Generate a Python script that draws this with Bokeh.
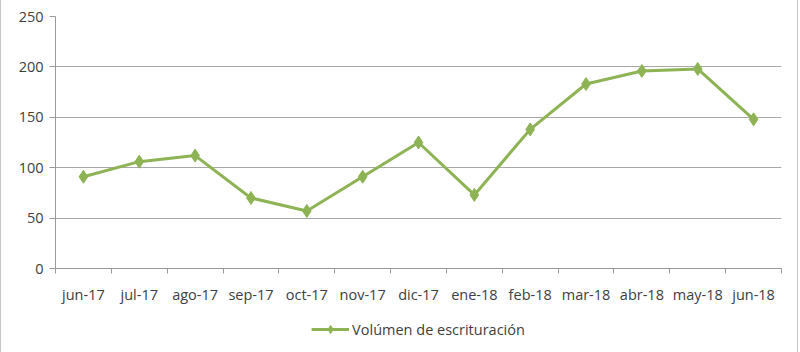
from bokeh.plotting import figure
from bokeh.layouts import column
from bokeh.models import FixedTicker, Range1d, Legend, LegendItem, ColumnDataSource
from bokeh.embed import file_html
from bokeh.resources import INLINE

months = ["jun-17", "jul-17", "ago-17", "sep-17", "oct-17", "nov-17", "dic-17",
          "ene-18", "feb-18", "mar-18", "abr-18", "may-18", "jun-18"]
volumen = [91, 106, 112, 70, 57, 91, 125, 73, 138, 183, 196, 198, 148]
series_name = "Volúmen de escrituración"
y_ticks = [0, 50, 100, 150, 200, 250]

xs = list(range(len(months)))
src = ColumnDataSource(dict(x=xs, y=volumen))

FONT = "Open Sans"
GREEN = "#8db354"
TXT = "#404040"
SIDE = {"border-left": "1px solid #c8c8c8", "border-right": "1px solid #c8c8c8"}

p = figure(width=798, height=306, output_backend="svg", toolbar_location=None,
           x_range=Range1d(-0.5, len(months) - 0.5), y_range=Range1d(0, 250),
           min_border_left=54, min_border_right=18, min_border_top=16, min_border_bottom=36)
p.styles = SIDE
p.outline_line_color = None
p.background_fill_color = "white"

p.line("x", "y", source=src, line_color=GREEN, line_width=3)
p.scatter("x", "y", source=src, marker="diamond", size=13, fill_color=GREEN, line_color=GREEN)

# x axis
p.xaxis.ticker = FixedTicker(ticks=xs, minor_ticks=[i - 0.5 for i in range(len(months) + 1)])
p.xaxis.major_label_overrides = {i: m for i, m in enumerate(months)}
p.xaxis.major_tick_out = 0
p.xaxis.major_tick_in = 0
p.xaxis.minor_tick_out = 5
p.xaxis.minor_tick_in = 0
p.xaxis.minor_tick_line_color = "#9a9a9a"
p.xaxis.axis_line_color = "#9a9a9a"
p.xaxis.major_label_standoff = 11
p.xgrid.grid_line_color = None

# y axis
p.yaxis.ticker = FixedTicker(ticks=y_ticks)
p.yaxis.major_tick_out = 6
p.yaxis.major_tick_in = 0
p.yaxis.minor_tick_line_color = None
p.yaxis.axis_line_color = "#9a9a9a"
p.yaxis.major_tick_line_color = "#9a9a9a"
p.yaxis.major_label_standoff = 6
p.ygrid.ticker = FixedTicker(ticks=y_ticks)
p.ygrid.grid_line_color = "#a8a8a8"
p.ygrid.grid_line_width = 1

for ax in (p.xaxis, p.yaxis):
    ax.major_label_text_font = FONT
    ax.major_label_text_font_size = "14.5px"
    ax.major_label_text_color = TXT

# legend strip below the chart
pl = figure(width=798, height=46, output_backend="svg", toolbar_location=None,
            x_range=Range1d(100, 101), y_range=Range1d(0, 250),
            x_axis_location=None, y_axis_location=None,
            min_border_left=0, min_border_right=0, min_border_top=0, min_border_bottom=0)
pl.styles = SIDE
pl.outline_line_color = None
pl.xgrid.visible = False
pl.ygrid.visible = False
ln = pl.line("x", "y", source=src, line_color=GREEN, line_width=3)
sc = pl.scatter("x", "y", source=src, marker="diamond", size=13, fill_color=GREEN, line_color=GREEN)

legend = Legend(items=[LegendItem(label=series_name, renderers=[ln, sc])],
                location="center", orientation="horizontal",
                label_text_font=FONT, label_text_font_size="14.5px", label_text_color=TXT,
                border_line_color=None, background_fill_alpha=0,
                glyph_width=38, label_standoff=3, padding=0, margin=0)
pl.add_layout(legend, "center")

layout = column(p, pl, spacing=0)
open("out.html", "w").write(file_html(layout, INLINE))
